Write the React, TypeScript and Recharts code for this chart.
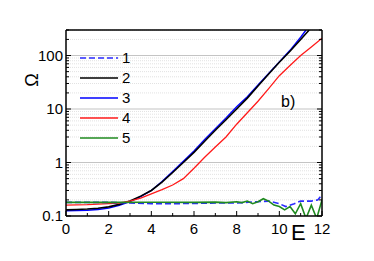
import React from "react"
import { LineChart, Line, XAxis, YAxis, ReferenceLine } from "recharts"

// x positions and values
const x1 = [0, 1, 2, 3, 4, 5, 6, 7, 8, 9, 9.5, 10, 10.3, 10.7, 11, 11.5, 11.8, 12]
const y1 = [0.18, 0.18, 0.18, 0.175, 0.17, 0.17, 0.172, 0.175, 0.175, 0.185, 0.19, 0.17, 0.15, 0.17, 0.19, 0.19, 0.2, 0.25]

const x2 = [0, 0.5, 1, 1.5, 2, 2.5, 3, 3.5, 4, 4.5, 5, 5.5, 6, 6.5, 7, 7.5, 8, 8.5, 9, 9.5, 10, 10.5, 11, 11.4]
const y2 = [0.13, 0.132, 0.135, 0.14, 0.148, 0.165, 0.19, 0.235, 0.3, 0.43, 0.65, 1.0, 1.55, 2.5, 4.0, 6.3, 10, 16, 27, 45, 75, 120, 200, 300]

const x3 = [0, 0.5, 1, 1.5, 2, 2.5, 3, 3.5, 4, 4.5, 5, 5.5, 6, 6.5, 7, 7.5, 8, 8.5, 9, 9.5, 10, 10.5, 11, 11.25]
const y3 = [0.125, 0.126, 0.128, 0.132, 0.14, 0.158, 0.185, 0.23, 0.3, 0.44, 0.68, 1.05, 1.65, 2.7, 4.3, 6.8, 11, 17, 28, 46, 76, 125, 220, 300]

const x4 = [0, 1, 2, 2.5, 3, 3.5, 4, 4.5, 5, 5.5, 6, 6.5, 7, 7.5, 8, 8.5, 9, 9.5, 10, 10.5, 11, 11.5, 12]
const y4 = [0.16, 0.163, 0.17, 0.175, 0.19, 0.215, 0.26, 0.31, 0.38, 0.5, 0.78, 1.25, 1.95, 3.0, 5.2, 8.5, 14, 24, 42, 65, 100, 145, 210]

const x5 = [0, 2, 4, 6, 7, 7.5, 8, 8.25, 8.5, 8.75, 9, 9.25, 9.5, 9.75, 10, 10.25, 10.5, 10.75, 11, 11.25, 11.5, 11.75, 12]
const y5 = [0.18, 0.18, 0.181, 0.18, 0.182, 0.178, 0.185, 0.178, 0.19, 0.17, 0.185, 0.21, 0.19, 0.16, 0.15, 0.13, 0.15, 0.11, 0.17, 0.09, 0.16, 0.09, 0.2]

const seriesNames = ["1", "2", "3", "4", "5"]
const xTicks = [0, 1, 2, 3, 4, 5, 6, 7, 8, 9, 10, 11, 12]
const yMajor = [0.1, 1, 10, 100]
const yMajorLabels = ["0.1", "1", "10", "100"]

const yMinor: number[] = []
yMajor.forEach((d) => {
  for (let m = 2; m <= 9; m++) {
    if (d * m <= 300) yMinor.push(+(d * m).toPrecision(3))
  }
})
const yTicks = [...yMajor, ...yMinor].sort((a, b) => a - b)

const toPts = (xs: number[], ys: number[]) => xs.map((x, i) => ({ x, y: ys[i] }))

const series = [
  { data: toPts(x1, y1), color: "#2a2aff", dash: "6 3", width: 1.6 },
  { data: toPts(x2, y2), color: "#000000", dash: undefined, width: 1.6 },
  { data: toPts(x3, y3), color: "#0000ff", dash: undefined, width: 1.4 },
  { data: toPts(x4, y4), color: "#ff1a1a", dash: undefined, width: 1.3 },
  { data: toPts(x5, y5), color: "#1f8a1f", dash: undefined, width: 1.6 },
]
// black drawn over blue, green over dashed blue
const drawOrder = [2, 1, 3, 0, 4]

const font = "'Liberation Sans', Arial, sans-serif"
const isMajor = (v: number) => yMajor.includes(v)

function LeftTick(props: any) {
  const { x, y, payload } = props
  const major = isMajor(payload.value)
  const idx = yMajor.indexOf(payload.value)
  return (
    <g>
      <line x1={x} x2={x + (major ? 5 : 3)} y1={y} y2={y} stroke="#000" strokeWidth={1} />
      {major && (
        <text x={x - 3} y={y + 5} textAnchor="end" fontSize={15} fontFamily={font} fill="#000">
          {yMajorLabels[idx]}
        </text>
      )}
    </g>
  )
}

function RightTick(props: any) {
  const { x, y, payload } = props
  const major = isMajor(payload.value)
  return <line x1={x} x2={x - (major ? 5 : 3)} y1={y} y2={y} stroke="#000" strokeWidth={1} />
}

function BottomTick(props: any) {
  const { x, y, payload } = props
  const major = payload.value % 2 === 0
  return (
    <g>
      <line x1={x} x2={x} y1={y} y2={y - (major ? 5 : 3)} stroke="#000" strokeWidth={1} />
      {major && (
        <text x={x} y={y + 18} textAnchor="middle" fontSize={15} fontFamily={font} fill="#000">
          {payload.value}
        </text>
      )}
    </g>
  )
}

function TopTick(props: any) {
  const { x, y, payload } = props
  const major = payload.value % 2 === 0
  return <line x1={x} x2={x} y1={y} y2={y + (major ? 5 : 3)} stroke="#000" strokeWidth={1} />
}

export default function App() {
  const frame = { stroke: "#000", strokeWidth: 1.5 }
  return (
    <div style={{ position: "absolute", left: 0, top: 0, width: 374, height: 261, fontFamily: font, background: "#fff" }}>
      <LineChart width={374} height={261} margin={{ top: 20, right: 42, bottom: 15, left: 6 }}>
        <XAxis dataKey="x" type="number" domain={[0, 12]} ticks={xTicks} interval={0}
          tickSize={0} tickMargin={0} axisLine={frame} tickLine={false} tick={BottomTick} height={30} allowDataOverflow />
        <XAxis xAxisId="t" orientation="top" type="number" domain={[0, 12]} ticks={xTicks} interval={0}
          tickSize={0} tickMargin={0} axisLine={frame} tickLine={false} tick={TopTick} height={10} />
        <YAxis type="number" scale="log" domain={[0.1, 300]} ticks={yTicks} interval={0} allowDataOverflow
          tickSize={0} tickMargin={0} axisLine={frame} tickLine={false} tick={LeftTick} width={60} />
        <YAxis yAxisId="r" orientation="right" type="number" scale="log" domain={[0.1, 300]} ticks={yTicks}
          interval={0} allowDataOverflow tickSize={0} tickMargin={0} axisLine={frame} tickLine={false} tick={RightTick} width={10} />
        {yMinor.map((v) => (
          <ReferenceLine key={"m" + v} y={v} stroke="#e2e2e2" strokeDasharray="1 1" strokeWidth={1} />
        ))}
        {yMajor.slice(1).map((v) => (
          <ReferenceLine key={"M" + v} y={v} stroke="#c4c4c4" strokeWidth={1.2} />
        ))}
        {drawOrder.map((i) => {
          const s = series[i]
          return (
            <Line key={i} data={s.data} dataKey="y" type="linear" stroke={s.color} strokeWidth={s.width}
              strokeDasharray={s.dash} dot={false} isAnimationActive={false} />
          )
        })}
      </LineChart>

      <div style={{ position: "absolute", left: 78, top: 48 }}>
        {series.map((s, i) => (
          <div key={i} style={{ display: "flex", alignItems: "center", height: 20 }}>
            <svg width={42} height={4}>
              <line x1={2} x2={40} y1={2} y2={2} stroke={s.color} strokeWidth={1.6} strokeDasharray={s.dash} />
            </svg>
            <span style={{ fontSize: 15, marginLeft: 2, lineHeight: "20px" }}>{seriesNames[i]}</span>
          </div>
        ))}
      </div>

      <div style={{ position: "absolute", left: 281, top: 93, fontSize: 16 }}>b)</div>
      <div style={{ position: "absolute", left: 291, top: 220, fontSize: 22 }}>E</div>
      <div style={{ position: "absolute", left: 22, top: 68, width: 20, height: 24, fontSize: 18, display: "flex",
        alignItems: "center", justifyContent: "center", transform: "rotate(-90deg)" }}>Ω</div>
    </div>
  )
}
